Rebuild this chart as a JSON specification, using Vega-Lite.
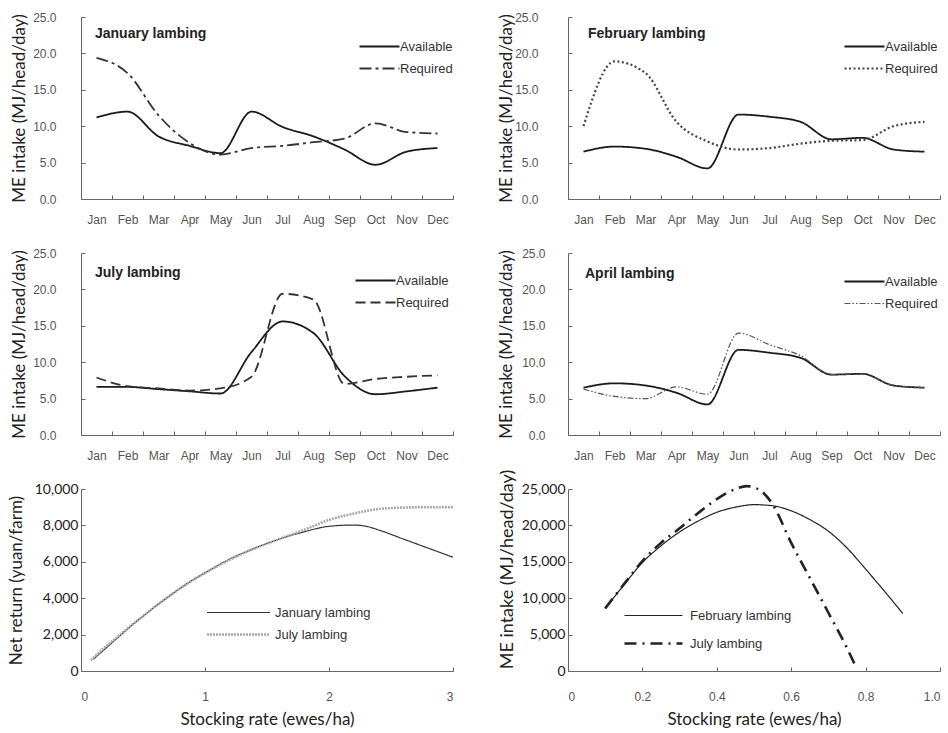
{
  "$schema": "https://vega.github.io/schema/vega-lite/v6.json",
  "background": "white",
  "padding": {"left": 6, "top": 11, "right": 5, "bottom": 5},
  "datasets": {
    "jan": [
      {"month": "Jan", "series": "Available", "value": 11.2}, {"month": "Feb", "series": "Available", "value": 12.0}, {"month": "Mar", "series": "Available", "value": 8.6}, {"month": "Apr", "series": "Available", "value": 7.3}, {"month": "May", "series": "Available", "value": 6.3}, {"month": "Jun", "series": "Available", "value": 12.0}, {"month": "Jul", "series": "Available", "value": 9.9}, {"month": "Aug", "series": "Available", "value": 8.6}, {"month": "Sep", "series": "Available", "value": 6.8}, {"month": "Oct", "series": "Available", "value": 4.7}, {"month": "Nov", "series": "Available", "value": 6.5}, {"month": "Dec", "series": "Available", "value": 7.0},
      {"month": "Jan", "series": "Required", "value": 19.4}, {"month": "Feb", "series": "Required", "value": 17.3}, {"month": "Mar", "series": "Required", "value": 11.5}, {"month": "Apr", "series": "Required", "value": 7.7}, {"month": "May", "series": "Required", "value": 6.1}, {"month": "Jun", "series": "Required", "value": 7.0}, {"month": "Jul", "series": "Required", "value": 7.3}, {"month": "Aug", "series": "Required", "value": 7.8}, {"month": "Sep", "series": "Required", "value": 8.3}, {"month": "Oct", "series": "Required", "value": 10.4}, {"month": "Nov", "series": "Required", "value": 9.2}, {"month": "Dec", "series": "Required", "value": 9.0}
    ],
    "feb": [
      {"month": "Jan", "series": "Available", "value": 6.5}, {"month": "Feb", "series": "Available", "value": 7.2}, {"month": "Mar", "series": "Available", "value": 6.9}, {"month": "Apr", "series": "Available", "value": 5.8}, {"month": "May", "series": "Available", "value": 4.2}, {"month": "Jun", "series": "Available", "value": 11.6}, {"month": "Jul", "series": "Available", "value": 11.3}, {"month": "Aug", "series": "Available", "value": 10.6}, {"month": "Sep", "series": "Available", "value": 8.2}, {"month": "Oct", "series": "Available", "value": 8.4}, {"month": "Nov", "series": "Available", "value": 6.8}, {"month": "Dec", "series": "Available", "value": 6.5},
      {"month": "Jan", "series": "Required", "value": 10.0}, {"month": "Feb", "series": "Required", "value": 18.9}, {"month": "Mar", "series": "Required", "value": 17.3}, {"month": "Apr", "series": "Required", "value": 10.6}, {"month": "May", "series": "Required", "value": 7.9}, {"month": "Jun", "series": "Required", "value": 6.8}, {"month": "Jul", "series": "Required", "value": 7.0}, {"month": "Aug", "series": "Required", "value": 7.6}, {"month": "Sep", "series": "Required", "value": 8.0}, {"month": "Oct", "series": "Required", "value": 8.1}, {"month": "Nov", "series": "Required", "value": 10.0}, {"month": "Dec", "series": "Required", "value": 10.6}
    ],
    "jul": [
      {"month": "Jan", "series": "Available", "value": 6.6}, {"month": "Feb", "series": "Available", "value": 6.6}, {"month": "Mar", "series": "Available", "value": 6.3}, {"month": "Apr", "series": "Available", "value": 6.0}, {"month": "May", "series": "Available", "value": 5.7}, {"month": "Jun", "series": "Available", "value": 11.4}, {"month": "Jul", "series": "Available", "value": 15.6}, {"month": "Aug", "series": "Available", "value": 14.0}, {"month": "Sep", "series": "Available", "value": 8.1}, {"month": "Oct", "series": "Available", "value": 5.6}, {"month": "Nov", "series": "Available", "value": 6.0}, {"month": "Dec", "series": "Available", "value": 6.5},
      {"month": "Jan", "series": "Required", "value": 7.9}, {"month": "Feb", "series": "Required", "value": 6.7}, {"month": "Mar", "series": "Required", "value": 6.4}, {"month": "Apr", "series": "Required", "value": 6.1}, {"month": "May", "series": "Required", "value": 6.4}, {"month": "Jun", "series": "Required", "value": 8.0}, {"month": "Jul", "series": "Required", "value": 19.4}, {"month": "Aug", "series": "Required", "value": 18.6}, {"month": "Sep", "series": "Required", "value": 7.0}, {"month": "Oct", "series": "Required", "value": 7.7}, {"month": "Nov", "series": "Required", "value": 8.0}, {"month": "Dec", "series": "Required", "value": 8.2}
    ],
    "apr": [
      {"month": "Jan", "series": "Available", "value": 6.5}, {"month": "Feb", "series": "Available", "value": 7.1}, {"month": "Mar", "series": "Available", "value": 6.8}, {"month": "Apr", "series": "Available", "value": 5.8}, {"month": "May", "series": "Available", "value": 4.2}, {"month": "Jun", "series": "Available", "value": 11.7}, {"month": "Jul", "series": "Available", "value": 11.3}, {"month": "Aug", "series": "Available", "value": 10.6}, {"month": "Sep", "series": "Available", "value": 8.3}, {"month": "Oct", "series": "Available", "value": 8.4}, {"month": "Nov", "series": "Available", "value": 6.8}, {"month": "Dec", "series": "Available", "value": 6.5},
      {"month": "Jan", "series": "Required", "value": 6.3}, {"month": "Feb", "series": "Required", "value": 5.3}, {"month": "Mar", "series": "Required", "value": 5.0}, {"month": "Apr", "series": "Required", "value": 6.6}, {"month": "May", "series": "Required", "value": 5.6}, {"month": "Jun", "series": "Required", "value": 14.0}, {"month": "Jul", "series": "Required", "value": 12.4}, {"month": "Aug", "series": "Required", "value": 10.9}, {"month": "Sep", "series": "Required", "value": 8.3}, {"month": "Oct", "series": "Required", "value": 8.4}, {"month": "Nov", "series": "Required", "value": 6.8}, {"month": "Dec", "series": "Required", "value": 6.5}
    ],
    "ret": [
      {"rate": 0.1, "series": "January lambing", "value": 650}, {"rate": 0.2, "series": "January lambing", "value": 1250}, {"rate": 0.3, "series": "January lambing", "value": 1850}, {"rate": 0.4, "series": "January lambing", "value": 2450}, {"rate": 0.5, "series": "January lambing", "value": 3000}, {"rate": 0.6, "series": "January lambing", "value": 3550}, {"rate": 0.7, "series": "January lambing", "value": 4050}, {"rate": 0.8, "series": "January lambing", "value": 4550}, {"rate": 0.9, "series": "January lambing", "value": 5000}, {"rate": 1.0, "series": "January lambing", "value": 5400}, {"rate": 1.2, "series": "January lambing", "value": 6150}, {"rate": 1.4, "series": "January lambing", "value": 6750}, {"rate": 1.6, "series": "January lambing", "value": 7250}, {"rate": 1.8, "series": "January lambing", "value": 7650}, {"rate": 2.0, "series": "January lambing", "value": 7950}, {"rate": 2.2, "series": "January lambing", "value": 8020}, {"rate": 2.3, "series": "January lambing", "value": 7950}, {"rate": 2.4, "series": "January lambing", "value": 7750}, {"rate": 2.6, "series": "January lambing", "value": 7250}, {"rate": 2.8, "series": "January lambing", "value": 6750}, {"rate": 3.0, "series": "January lambing", "value": 6250},
      {"rate": 0.08, "series": "July lambing", "value": 600}, {"rate": 0.2, "series": "July lambing", "value": 1350}, {"rate": 0.3, "series": "July lambing", "value": 1900}, {"rate": 0.4, "series": "July lambing", "value": 2480}, {"rate": 0.5, "series": "July lambing", "value": 3020}, {"rate": 0.6, "series": "July lambing", "value": 3560}, {"rate": 0.7, "series": "July lambing", "value": 4060}, {"rate": 0.8, "series": "July lambing", "value": 4540}, {"rate": 0.9, "series": "July lambing", "value": 4980}, {"rate": 1.0, "series": "July lambing", "value": 5380}, {"rate": 1.2, "series": "July lambing", "value": 6120}, {"rate": 1.4, "series": "July lambing", "value": 6730}, {"rate": 1.6, "series": "July lambing", "value": 7250}, {"rate": 1.8, "series": "July lambing", "value": 7760}, {"rate": 2.0, "series": "July lambing", "value": 8300}, {"rate": 2.2, "series": "July lambing", "value": 8650}, {"rate": 2.4, "series": "July lambing", "value": 8900}, {"rate": 2.6, "series": "July lambing", "value": 8980}, {"rate": 2.8, "series": "July lambing", "value": 9000}, {"rate": 3.0, "series": "July lambing", "value": 9000}
    ],
    "me": [
      {"rate": 0.1, "series": "February lambing", "value": 8600}, {"rate": 0.15, "series": "February lambing", "value": 11800}, {"rate": 0.2, "series": "February lambing", "value": 14900}, {"rate": 0.25, "series": "February lambing", "value": 17200}, {"rate": 0.3, "series": "February lambing", "value": 19100}, {"rate": 0.35, "series": "February lambing", "value": 20600}, {"rate": 0.4, "series": "February lambing", "value": 21800}, {"rate": 0.45, "series": "February lambing", "value": 22500}, {"rate": 0.5, "series": "February lambing", "value": 22850}, {"rate": 0.55, "series": "February lambing", "value": 22700}, {"rate": 0.6, "series": "February lambing", "value": 22000}, {"rate": 0.65, "series": "February lambing", "value": 20800}, {"rate": 0.7, "series": "February lambing", "value": 19200}, {"rate": 0.75, "series": "February lambing", "value": 16900}, {"rate": 0.8, "series": "February lambing", "value": 14000}, {"rate": 0.85, "series": "February lambing", "value": 11000}, {"rate": 0.9, "series": "February lambing", "value": 7900},
      {"rate": 0.1, "series": "July lambing", "value": 8600}, {"rate": 0.15, "series": "July lambing", "value": 11900}, {"rate": 0.2, "series": "July lambing", "value": 15100}, {"rate": 0.25, "series": "July lambing", "value": 17600}, {"rate": 0.3, "series": "July lambing", "value": 19600}, {"rate": 0.35, "series": "July lambing", "value": 21700}, {"rate": 0.4, "series": "July lambing", "value": 23600}, {"rate": 0.45, "series": "July lambing", "value": 25000}, {"rate": 0.48, "series": "July lambing", "value": 25400}, {"rate": 0.5, "series": "July lambing", "value": 25200}, {"rate": 0.52, "series": "July lambing", "value": 24700}, {"rate": 0.55, "series": "July lambing", "value": 22900}, {"rate": 0.6, "series": "July lambing", "value": 17600}, {"rate": 0.65, "series": "July lambing", "value": 12800}, {"rate": 0.7, "series": "July lambing", "value": 8000}, {"rate": 0.75, "series": "July lambing", "value": 3150}, {"rate": 0.77, "series": "July lambing", "value": 1000}
    ]
  },
  "config": {
    "view": {"stroke": null},
    "axis": {
      "grid": false,
      "domainColor": "#666",
      "tickColor": "#666",
      "tickSize": -4,
      "labelColor": "#555",
      "labelFont": "Liberation Sans",
      "labelFontSize": 12,
      "titleFont": "Lato",
      "titleFontSize": 17,
      "titleFontWeight": "normal",
      "titleColor": "#222"
    },
    "legend": {
      "title": null,
      "orient": "none",
      "labelFont": "Liberation Sans",
      "labelFontSize": 13,
      "labelColor": "#333",
      "padding": 0,
      "symbolSize": 100
    }
  },
  "columns": 2,
  "spacing": {"row": 54, "column": 115},
  "bounds": "flush",
  "resolve": {
    "scale": {"color": "independent", "strokeDash": "independent", "strokeWidth": "independent", "x": "independent", "y": "independent"},
    "legend": {"color": "independent", "strokeDash": "independent", "strokeWidth": "independent"}
  },
  "concat": [
    {
      "width": 372, "height": 182,
      "data": {"name": "jan"},
      "title": {"text": "January lambing", "anchor": "start", "frame": "group", "offset": -20, "dx": 14, "dy": 21, "baseline": "alphabetic", "font": "Liberation Sans", "fontSize": 14, "fontWeight": "bold", "color": "#222"},
      "mark": {"type": "line", "interpolate": "monotone"},
      "encoding": {
        "x": {"field": "month", "type": "ordinal", "sort": ["Jan","Feb","Mar","Apr","May","Jun","Jul","Aug","Sep","Oct","Nov","Dec"], "scale": {"type": "band", "paddingInner": 0, "paddingOuter": 0}, "axis": {"title": null, "labelAngle": 0, "tickBand": "extent", "labelPadding": 19}},
        "y": {"field": "value", "type": "quantitative", "scale": {"domain": [0, 25]}, "axis": {"title": "ME intake (MJ/head/day)", "values": [0,5,10,15,20,25], "format": ".1f", "labelPadding": 29, "titleX": -53, "titleBaseline": "bottom"}},
        "strokeDash": {"field": "series", "type": "nominal", "scale": {"domain": ["Available","Required"], "range": [[1,0],[12,4,3,4]]}, "legend": {"legendX": 292, "legendY": 23, "symbolType": "M-4,0H4", "labelOffset": 14, "rowPadding": 8}},
        "color": {"field": "series", "type": "nominal", "scale": {"domain": ["Available","Required"], "range": ["#1a1a1a","#333333"]}, "legend": {"legendX": 292, "legendY": 23, "symbolType": "M-4,0H4", "labelOffset": 14, "rowPadding": 8}},
        "strokeWidth": {"field": "series", "type": "nominal", "scale": {"domain": ["Available","Required"], "range": [1.8,1.8]}, "legend": {"legendX": 292, "legendY": 23, "symbolType": "M-4,0H4", "labelOffset": 14, "rowPadding": 8}}
      }
    },
    {
      "width": 372, "height": 182,
      "data": {"name": "feb"},
      "title": {"text": "February lambing", "anchor": "start", "frame": "group", "offset": -20, "dx": 20, "dy": 21, "baseline": "alphabetic", "font": "Liberation Sans", "fontSize": 14, "fontWeight": "bold", "color": "#222"},
      "mark": {"type": "line", "interpolate": "monotone"},
      "encoding": {
        "x": {"field": "month", "type": "ordinal", "sort": ["Jan","Feb","Mar","Apr","May","Jun","Jul","Aug","Sep","Oct","Nov","Dec"], "scale": {"type": "band", "paddingInner": 0, "paddingOuter": 0}, "axis": {"title": null, "labelAngle": 0, "tickBand": "extent", "labelPadding": 19}},
        "y": {"field": "value", "type": "quantitative", "scale": {"domain": [0, 25]}, "axis": {"title": "ME intake (MJ/head/day)", "values": [0,5,10,15,20,25], "format": ".1f", "labelPadding": 34, "titleX": -53, "titleBaseline": "bottom"}},
        "strokeDash": {"field": "series", "type": "nominal", "scale": {"domain": ["Available","Required"], "range": [[1,0],[2,2.5]]}, "legend": {"legendX": 290, "legendY": 23, "symbolType": "M-4,0H4", "labelOffset": 14, "rowPadding": 8}},
        "color": {"field": "series", "type": "nominal", "scale": {"domain": ["Available","Required"], "range": ["#1a1a1a","#444444"]}, "legend": {"legendX": 290, "legendY": 23, "symbolType": "M-4,0H4", "labelOffset": 14, "rowPadding": 8}},
        "strokeWidth": {"field": "series", "type": "nominal", "scale": {"domain": ["Available","Required"], "range": [1.8,2.2]}, "legend": {"legendX": 290, "legendY": 23, "symbolType": "M-4,0H4", "labelOffset": 14, "rowPadding": 8}}
      }
    },
    {
      "width": 372, "height": 182,
      "data": {"name": "jul"},
      "title": {"text": "July lambing", "anchor": "start", "frame": "group", "offset": -23, "dx": 14, "dy": 21, "baseline": "alphabetic", "font": "Liberation Sans", "fontSize": 14, "fontWeight": "bold", "color": "#222"},
      "mark": {"type": "line", "interpolate": "monotone"},
      "encoding": {
        "x": {"field": "month", "type": "ordinal", "sort": ["Jan","Feb","Mar","Apr","May","Jun","Jul","Aug","Sep","Oct","Nov","Dec"], "scale": {"type": "band", "paddingInner": 0, "paddingOuter": 0}, "axis": {"title": null, "labelAngle": 0, "tickBand": "extent", "labelPadding": 19}},
        "y": {"field": "value", "type": "quantitative", "scale": {"domain": [0, 25]}, "axis": {"title": "ME intake (MJ/head/day)", "values": [0,5,10,15,20,25], "format": ".1f", "labelPadding": 29, "titleX": -53, "titleBaseline": "bottom"}},
        "strokeDash": {"field": "series", "type": "nominal", "scale": {"domain": ["Available","Required"], "range": [[1,0],[10,5]]}, "legend": {"legendX": 288, "legendY": 21, "symbolType": "M-4,0H4", "labelOffset": 14, "rowPadding": 8}},
        "color": {"field": "series", "type": "nominal", "scale": {"domain": ["Available","Required"], "range": ["#1a1a1a","#333333"]}, "legend": {"legendX": 288, "legendY": 21, "symbolType": "M-4,0H4", "labelOffset": 14, "rowPadding": 8}},
        "strokeWidth": {"field": "series", "type": "nominal", "scale": {"domain": ["Available","Required"], "range": [1.8,1.8]}, "legend": {"legendX": 288, "legendY": 21, "symbolType": "M-4,0H4", "labelOffset": 14, "rowPadding": 8}}
      }
    },
    {
      "width": 372, "height": 182,
      "data": {"name": "apr"},
      "title": {"text": "April lambing", "anchor": "start", "frame": "group", "offset": -24, "dx": 17, "dy": 21, "baseline": "alphabetic", "font": "Liberation Sans", "fontSize": 14, "fontWeight": "bold", "color": "#222"},
      "mark": {"type": "line", "interpolate": "monotone"},
      "encoding": {
        "x": {"field": "month", "type": "ordinal", "sort": ["Jan","Feb","Mar","Apr","May","Jun","Jul","Aug","Sep","Oct","Nov","Dec"], "scale": {"type": "band", "paddingInner": 0, "paddingOuter": 0}, "axis": {"title": null, "labelAngle": 0, "tickBand": "extent", "labelPadding": 19}},
        "y": {"field": "value", "type": "quantitative", "scale": {"domain": [0, 25]}, "axis": {"title": "ME intake (MJ/head/day)", "values": [0,5,10,15,20,25], "format": ".1f", "labelPadding": 27, "titleX": -53, "titleBaseline": "bottom"}},
        "strokeDash": {"field": "series", "type": "nominal", "scale": {"domain": ["Available","Required"], "range": [[1,0],[6,2,1.5,2,1.5,2]]}, "legend": {"legendX": 290, "legendY": 22, "symbolType": "M-4,0H4", "labelOffset": 14, "rowPadding": 8}},
        "color": {"field": "series", "type": "nominal", "scale": {"domain": ["Available","Required"], "range": ["#1a1a1a","#555555"]}, "legend": {"legendX": 290, "legendY": 22, "symbolType": "M-4,0H4", "labelOffset": 14, "rowPadding": 8}},
        "strokeWidth": {"field": "series", "type": "nominal", "scale": {"domain": ["Available","Required"], "range": [1.8,1.2]}, "legend": {"legendX": 290, "legendY": 22, "symbolType": "M-4,0H4", "labelOffset": 14, "rowPadding": 8}}
      }
    },
    {
      "width": 372, "height": 182,
      "data": {"name": "ret"},
      "mark": {"type": "line", "interpolate": "monotone"},
      "encoding": {
        "x": {"field": "rate", "type": "quantitative", "scale": {"domain": [0, 3]}, "axis": {"title": "Stocking rate (ewes/ha)", "values": [0,1,2,3], "format": "d", "labelPadding": 24, "titlePadding": 9}},
        "y": {"field": "value", "type": "quantitative", "scale": {"domain": [0, 10000]}, "axis": {"title": "Net return (yuan/farm)", "values": [0,2000,4000,6000,8000,10000], "format": ",d", "labelPadding": 7, "labelFont": "Lato", "labelFontSize": 14, "labelColor": "#222", "titleX": -56, "titleBaseline": "bottom"}},
        "strokeDash": {"field": "series", "type": "nominal", "scale": {"domain": ["January lambing","July lambing"], "range": [[1,0],[2,1]]}, "legend": {"legendX": 151, "legendY": 117, "symbolType": "M-6.3,0H6.3", "labelOffset": 30, "rowPadding": 8}},
        "color": {"field": "series", "type": "nominal", "scale": {"domain": ["January lambing","July lambing"], "range": ["#333333","#aaaaaa"]}, "legend": {"legendX": 151, "legendY": 117, "symbolType": "M-6.3,0H6.3", "labelOffset": 30, "rowPadding": 8}},
        "strokeWidth": {"field": "series", "type": "nominal", "scale": {"domain": ["January lambing","July lambing"], "range": [1.2,2.6]}, "legend": {"legendX": 151, "legendY": 117, "symbolType": "M-6.3,0H6.3", "labelOffset": 30, "rowPadding": 8}}
      }
    },
    {
      "width": 372, "height": 182,
      "data": {"name": "me"},
      "mark": {"type": "line", "interpolate": "monotone"},
      "encoding": {
        "x": {"field": "rate", "type": "quantitative", "scale": {"domain": [0, 1]}, "axis": {"title": "Stocking rate (ewes/ha)", "values": [0,0.2,0.4,0.6,0.8,1], "labelExpr": "datum.value == 0 ? '0' : format(datum.value, '.1f')", "labelPadding": 24, "titlePadding": 9}},
        "y": {"field": "value", "type": "quantitative", "scale": {"domain": [0, 25000]}, "axis": {"title": "ME intake (MJ/head/day)", "values": [0,5000,10000,15000,20000,25000], "format": ",d", "labelPadding": 7, "labelFont": "Lato", "labelFontSize": 14, "labelColor": "#222", "titleX": -52, "titleY": 80, "titleFontSize": 18, "titleBaseline": "bottom"}},
        "strokeDash": {"field": "series", "type": "nominal", "scale": {"domain": ["February lambing","July lambing"], "range": [[1,0],[12,6,2,6]]}, "legend": {"legendX": 79, "legendY": 120, "symbolType": "M-5.8,0H5.8", "labelOffset": 30, "rowPadding": 14}},
        "color": {"field": "series", "type": "nominal", "scale": {"domain": ["February lambing","July lambing"], "range": ["#222222","#222222"]}, "legend": {"legendX": 79, "legendY": 120, "symbolType": "M-5.8,0H5.8", "labelOffset": 30, "rowPadding": 14}},
        "strokeWidth": {"field": "series", "type": "nominal", "scale": {"domain": ["February lambing","July lambing"], "range": [1.2,2.6]}, "legend": {"legendX": 79, "legendY": 120, "symbolType": "M-5.8,0H5.8", "labelOffset": 30, "rowPadding": 14}}
      }
    }
  ]
}
